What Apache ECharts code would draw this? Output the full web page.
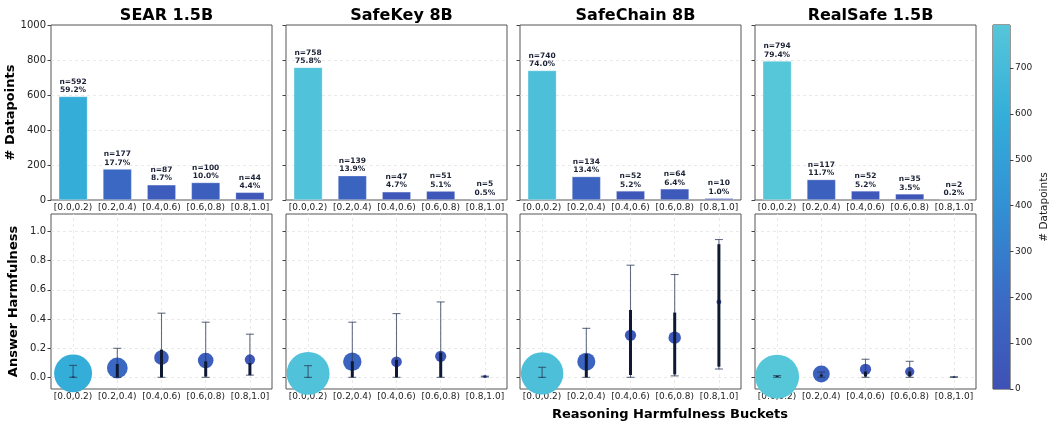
<!DOCTYPE html>
<html><head><meta charset="utf-8">
<script src="https://cdn.jsdelivr.net/npm/echarts@6/dist/echarts.min.js"></script>
<style>html,body{margin:0;padding:0;background:#fff}#c{width:1051px;height:423px}</style>
</head><body><div id="c"></div>
<script>
// ---------------- DATA ----------------
const models = ['SEAR 1.5B', 'SafeKey 8B', 'SafeChain 8B', 'RealSafe 1.5B'];
const buckets = ['[0.0,0.2)', '[0.2,0.4)', '[0.4,0.6)', '[0.6,0.8)', '[0.8,1.0]'];

const countsSEAR      = [592, 177, 87, 100, 44];
const countsSafeKey   = [758, 139, 47, 51, 5];
const countsSafeChain = [740, 134, 52, 64, 10];
const countsRealSafe  = [794, 117, 52, 35, 2];

// answer harmfulness: mean per bucket
const meanSEAR      = [0.027, 0.064, 0.135, 0.115, 0.122];
const meanSafeKey   = [0.027, 0.107, 0.107, 0.144, 0.005];
const meanSafeChain = [0.027, 0.107, 0.288, 0.272, 0.517];
const meanRealSafe  = [0.005, 0.023, 0.055, 0.039, 0.002];

// thin whisker (low / high)
const thinLoSEAR      = [0.0, 0.0, 0.0, 0.0, 0.015];
const thinHiSEAR      = [0.082, 0.199, 0.44, 0.378, 0.296];
const thinLoSafeKey   = [0.0, 0.0, 0.0, 0.0, 0.002];
const thinHiSafeKey   = [0.08, 0.378, 0.437, 0.517, 0.008];
const thinLoSafeChain = [0.0, 0.0, 0.0, 0.01, 0.057];
const thinHiSafeChain = [0.069, 0.336, 0.769, 0.705, 0.945];
const thinLoRealSafe  = [0.0, 0.0, 0.0, 0.0, 0.0];
const thinHiRealSafe  = [0.012, 0.036, 0.124, 0.11, 0.004];

// thick bar (low / high)
const thickLoSEAR      = [0.0, 0.0, 0.0, 0.005, 0.015];
const thickHiSEAR      = [0.005, 0.092, 0.19, 0.11, 0.098];
const thickLoSafeKey   = [0.0, 0.0, 0.0, 0.0, 0.003];
const thickHiSafeKey   = [0.002, 0.11, 0.12, 0.17, 0.007];
const thickLoSafeChain = [0.0, 0.0, 0.016, 0.02, 0.073];
const thickHiSafeChain = [0.002, 0.16, 0.462, 0.444, 0.913];
const thickLoRealSafe  = [0.002, 0.005, 0.005, 0.005, 0.001];
const thickHiRealSafe  = [0.008, 0.02, 0.04, 0.04, 0.003];

const topTickStep = 200;
const bottomTicks = [0.0, 0.2, 0.4, 0.6, 0.8, 1.0];
const colorbarTicks = [0, 100, 200, 300, 400, 500, 600, 700];
const colorMax = 794;
const cmap = ['#3F51B5', '#3A6BC5', '#3290D4', '#34AED9', '#56C6D9'];

// ---------------- BUILD ----------------
const counts  = [countsSEAR, countsSafeKey, countsSafeChain, countsRealSafe];
const means   = [meanSEAR, meanSafeKey, meanSafeChain, meanRealSafe];
const thinLo  = [thinLoSEAR, thinLoSafeKey, thinLoSafeChain, thinLoRealSafe];
const thinHi  = [thinHiSEAR, thinHiSafeKey, thinHiSafeChain, thinHiRealSafe];
const thickLo = [thickLoSEAR, thickLoSafeKey, thickLoSafeChain, thickLoRealSafe];
const thickHi = [thickHiSEAR, thickHiSafeKey, thickHiSafeChain, thickHiRealSafe];

const FONT = 'DejaVu Sans';
const lefts = [51, 286, 520, 755];
const PW = 221, TOP1 = 25, H = 175, TOP2 = 214;

const grids = [], xAxes = [], yAxes = [], series = [], titles = [];
const barIdx = [], scIdx = [];

for (let m = 0; m < 4; m++) {
  grids.push({left: lefts[m], top: TOP1, width: PW, height: H, show: true, borderColor: '#555', borderWidth: 1, backgroundColor: 'transparent'});
}
for (let m = 0; m < 4; m++) {
  grids.push({left: lefts[m], top: TOP2, width: PW, height: H, show: true, borderColor: '#555', borderWidth: 1, backgroundColor: 'transparent'});
}
grids.push({left: 993, top: TOP1, width: 19, height: 364, show: true, borderColor: '#333', borderWidth: 1});

const xCat = (gi) => ({
  type: 'category', gridIndex: gi, data: buckets,
  axisLine: {show: false}, axisTick: {show: false},
  axisLabel: {fontFamily: FONT, fontSize: 9, color: '#222', margin: 3, interval: 0},
  splitLine: {show: false}
});

for (let m = 0; m < 4; m++) {
  xAxes.push(xCat(m));
  yAxes.push({
    type: 'value', gridIndex: m, min: 0, max: 1000, interval: topTickStep,
    axisLine: {show: false},
    axisTick: {show: true, length: 3.5, lineStyle: {color: '#444'}},
    axisLabel: {show: m === 0, fontFamily: FONT, fontSize: 10, color: '#222', margin: 5, formatter: v => String(v)},
    splitLine: {show: true, showMinLine: false, showMaxLine: false, lineStyle: {color: '#e4e4e4', type: [3, 3], width: 0.8}},
    name: m === 0 ? '# Datapoints' : '', nameLocation: 'middle', nameGap: 31, nameRotate: 90,
    nameTextStyle: {fontFamily: FONT, fontSize: 13, fontWeight: 'bold', color: '#000'}
  });
}
for (let m = 0; m < 4; m++) {
  xAxes.push(xCat(4 + m));
  yAxes.push({
    type: 'value', gridIndex: 4 + m, min: -0.08, max: 1.12,
    axisLine: {show: false},
    axisTick: {show: true, length: 3.5, lineStyle: {color: '#444'}, customValues: bottomTicks},
    axisLabel: {show: m === 0, fontFamily: FONT, fontSize: 10, color: '#222', margin: 5,
      customValues: bottomTicks, formatter: v => v.toFixed(1)},
    splitLine: {show: false},
    name: m === 0 ? 'Answer Harmfulness' : '', nameLocation: 'middle', nameGap: 31, nameRotate: 90,
    nameTextStyle: {fontFamily: FONT, fontSize: 13, fontWeight: 'bold', color: '#000'}
  });
}
// colorbar axes
xAxes.push({type: 'category', gridIndex: 8, data: [''], show: false, boundaryGap: true});
yAxes.push({
  type: 'value', gridIndex: 8, min: 0, max: colorMax, position: 'right',
  axisLine: {show: false},
  axisTick: {show: true, length: 3.5, lineStyle: {color: '#444'}, customValues: colorbarTicks},
  axisLabel: {fontFamily: FONT, fontSize: 9, color: '#222', margin: 5, customValues: colorbarTicks},
  splitLine: {show: false},
  name: '# Datapoints', nameLocation: 'middle', nameGap: 29, nameRotate: 90,
  nameTextStyle: {fontFamily: FONT, fontSize: 10.5, color: '#222'}
});

const thinColor = 'rgba(40,55,85,0.72)';
const thickColor = '#0e1a33';

function renderErr(params, api) {
  const x = api.value(0);
  const p1 = api.coord([x, api.value(1)]);
  const p2 = api.coord([x, api.value(2)]);
  const q1 = api.coord([x, api.value(3)]);
  const q2 = api.coord([x, api.value(4)]);
  const cw = 4;
  const thin = {stroke: thinColor, lineWidth: 1.1};
  return {type: 'group', children: [
    {type: 'line', shape: {x1: p1[0], y1: p1[1], x2: p2[0], y2: p2[1]}, style: thin},
    {type: 'line', shape: {x1: p1[0] - cw, y1: p1[1], x2: p1[0] + cw, y2: p1[1]}, style: thin},
    {type: 'line', shape: {x1: p2[0] - cw, y1: p2[1], x2: p2[0] + cw, y2: p2[1]}, style: thin},
    {type: 'line', shape: {x1: q1[0], y1: q1[1], x2: q2[0], y2: q2[1]}, style: {stroke: thickColor, lineWidth: 3}}
  ]};
}

for (let m = 0; m < 4; m++) {
  const total = counts[m].reduce((a, b) => a + b, 0);
  barIdx.push(series.length);
  series.push({
    type: 'bar', xAxisIndex: m, yAxisIndex: m, barWidth: '65%', z: 3,
    data: counts[m].map((v, i) => [i, v]),
    itemStyle: {borderColor: 'rgba(255,255,255,0.5)', borderWidth: 0.6},
    label: {show: true, position: 'top', distance: 2, fontFamily: FONT, fontSize: 7.5, fontWeight: 'bold',
      color: '#1b2236', lineHeight: 8.5, align: 'center',
      formatter: p => 'n=' + p.value[1] + '\n' + (p.value[1] / total * 100).toFixed(1) + '%'}
  });
  // grid lines for bottom panels
  series.push({
    type: 'line', xAxisIndex: 4 + m, yAxisIndex: 4 + m, data: [], z: 1,
    markLine: {silent: true, symbol: 'none', z: 1, animation: false,
      label: {show: false},
      lineStyle: {color: '#e4e4e4', type: [3, 3], width: 0.8},
      data: bottomTicks.map(v => ({yAxis: v})).concat(buckets.map(b => ({xAxis: b})))}
  });
  scIdx.push(series.length);
  series.push({
    type: 'scatter', xAxisIndex: 4 + m, yAxisIndex: 4 + m, z: 3,
    data: means[m].map((v, i) => [i, v, counts[m][i]]),
    symbolSize: val => 1.56 * Math.sqrt(val[2]),
    itemStyle: {opacity: 1}
  });
  series.push({
    type: 'custom', xAxisIndex: 4 + m, yAxisIndex: 4 + m, z: 4,
    data: means[m].map((v, i) => [i, thinLo[m][i], thinHi[m][i], thickLo[m][i], thickHi[m][i]]),
    renderItem: renderErr, encode: {x: 0, y: [1, 2, 3, 4]}
  });
  titles.push({text: models[m], left: lefts[m] + PW / 2, top: 3, textAlign: 'center',
    textStyle: {fontFamily: FONT, fontSize: 16, fontWeight: 'bold', color: '#000'}});
}
// colorbar
series.push({
  type: 'bar', xAxisIndex: 8, yAxisIndex: 8, barWidth: '100%', data: [colorMax], silent: true,
  itemStyle: {color: new echarts.graphic.LinearGradient(0, 1, 0, 0,
    cmap.map((c, i) => ({offset: i / (cmap.length - 1), color: c})))}
});

const option = {
  animation: false,
  backgroundColor: '#fff',
  title: titles,
  grid: grids, xAxis: xAxes, yAxis: yAxes,
  visualMap: [
    {type: 'continuous', show: false, min: 0, max: colorMax, dimension: 1, seriesIndex: barIdx, inRange: {color: cmap}},
    {type: 'continuous', show: false, min: 0, max: colorMax, dimension: 2, seriesIndex: scIdx, inRange: {color: cmap}}
  ],
  graphic: [{type: 'text', left: 552, top: 408, style: {text: 'Reasoning Harmfulness Buckets', fontFamily: FONT,
    fontSize: 13, fontWeight: 'bold', fill: '#000', textAlign: 'center'}}],
  series: series
};
const chart = echarts.init(document.getElementById('c'), null, {renderer: 'canvas'});
chart.setOption(option);
</script></body></html>
